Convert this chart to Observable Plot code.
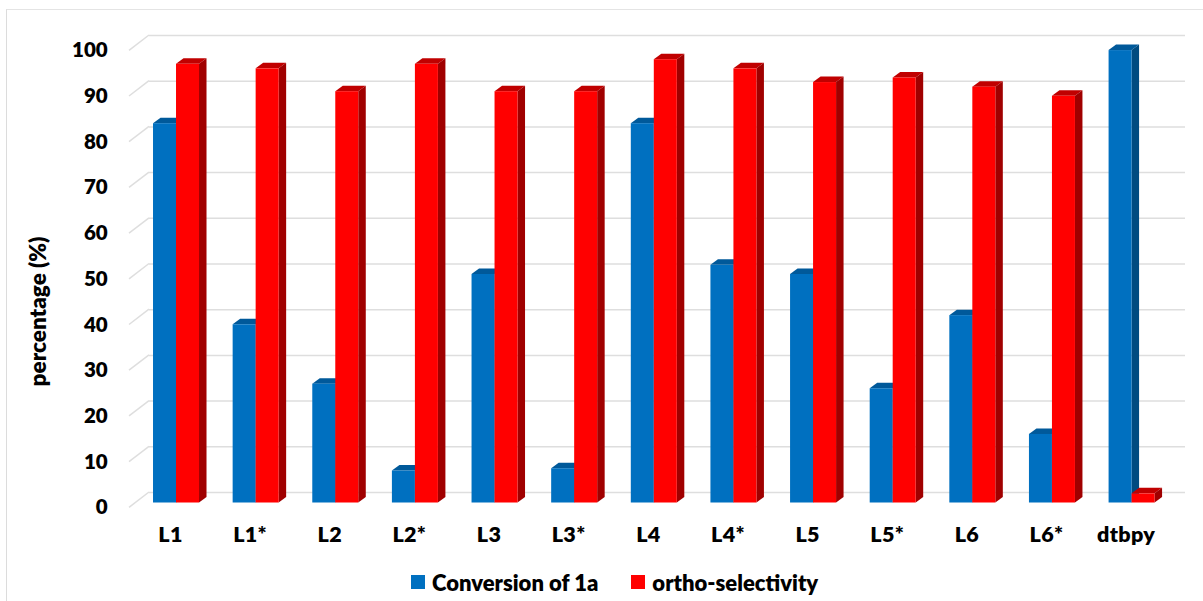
<!DOCTYPE html>
<html><head><meta charset="utf-8">
<script src="https://cdn.jsdelivr.net/npm/d3@7"></script>
<script src="https://cdn.jsdelivr.net/npm/@observablehq/plot@0.6"></script>
<style>
html,body{margin:0;padding:0;background:#fff;width:1203px;height:601px;overflow:hidden}
#frame{position:absolute;left:6px;top:9px;width:1197px;height:592px;border-left:1.5px solid #dcdcdc;border-top:1.5px solid #e4e4e4;box-sizing:border-box}
#chart{position:absolute;left:0;top:0}
#legend{position:absolute;left:411px;top:570px;height:24px;display:flex;align-items:center;font:800 22px Lato,sans-serif;color:#000;white-space:nowrap}
#legend i{display:inline-block;width:14px;height:14px;margin-right:7px}
#legend span{display:inline-flex;align-items:center}
#chart g[aria-label="x-axis tick label"]{font-size:21.5px;letter-spacing:.3px}
</style></head><body>
<div id="frame"></div>
<div id="chart"></div>
<div id="legend"></div>
<script>
const categories = ["L1","L1*","L2","L2*","L3","L3*","L4","L4*","L5","L5*","L6","L6*","dtbpy"];
const conversion = [83,39,26,7,50,7.5,83,52,50,25,41,15,99];
const selectivity = [96,95,90,96,90,90,97,95,92,93,91,89,2];
const yTicks = [0,10,20,30,40,50,60,70,80,90,100];
const seriesNames = ["Conversion of 1a","ortho-selectivity"];
const seriesColors = ["#0070C0","#FF0000"];

const blueRows = categories.map((c,i)=>({c,v:conversion[i]}));
const redRows = categories.map((c,i)=>({c,v:selectivity[i]}));

const barW = 23, band = 79.63, gap = (band-2*barW)/2;
const depthX = 7.5, depthY = 5.5;

function depth3D(rows, leftOffset, topColor, sideColor){
  return (index, scales) => {
    const g = d3.create("svg:g");
    for (const r of rows){
      const x0 = scales.x(r.c)+leftOffset, x1 = x0+barW;
      const yt = scales.y(r.v), yb = scales.y(0);
      g.append("polygon").attr("fill",topColor)
        .attr("points",[[x0,yt],[x0+depthX,yt-depthY],[x1+depthX,yt-depthY],[x1,yt]].join(" "));
      g.append("polygon").attr("fill",sideColor)
        .attr("points",[[x1,yt],[x1+depthX,yt-depthY],[x1+depthX,yb-depthY],[x1,yb]].join(" "));
    }
    return g.node();
  };
}
const wall = (index, scales) => {
  const g = d3.create("svg:g");
  for (const t of yTicks){
    g.append("line").attr("x1",129).attr("x2",149)
      .attr("y1",scales.y(t)+4.8).attr("y2",scales.y(t)-10.5)
      .attr("stroke","#dedede").attr("stroke-width",1.5);
  }
  return g.node();
};

const plot = Plot.plot({
  width:1203, height:565,
  marginLeft:136.2, marginRight:31.6, marginTop:45.5, marginBottom:62.5,
  style:{fontFamily:"Lato, sans-serif",fontWeight:800,fontSize:"20.5px",color:"#000",background:"transparent"},
  x:{domain:categories,padding:0,round:false,label:null},
  y:{domain:[0,100],label:null},
  marks:[
    Plot.ruleY(yTicks,{stroke:"#dedede",strokeWidth:1.5,dy:-10.5,insetLeft:12.8,insetRight:-13.6}),
    wall,
    Plot.axisY({ticks:yTicks,tickSize:0,tickPadding:29,dy:4.8,label:null}),
    Plot.text(["percentage (%)"],{frameAnchor:"left",dx:-98,dy:37,rotate:-90,fontSize:22.5,fontWeight:800,fill:"#000",textAnchor:"middle"}),
    Plot.axisX({tickSize:0,tickPadding:24,dx:-6,label:null,fontSize:21.5}),
    depth3D(blueRows,gap,"#00599A","#004B80"),
    Plot.barY(blueRows,{x:"c",y:"v",fill:seriesColors[0],insetLeft:gap,insetRight:gap+barW}),
    depth3D(redRows,gap+barW,"#C00000","#A00000"),
    Plot.barY(redRows,{x:"c",y:"v",fill:seriesColors[1],insetLeft:gap+barW,insetRight:gap})
  ]
});
document.getElementById("chart").append(plot);
const legend = document.getElementById("legend");
seriesNames.forEach((n,i)=>{
  const s=document.createElement("span");
  if(i) s.style.marginLeft="33px";
  const k=document.createElement("i"); k.style.background=seriesColors[i];
  s.append(k,document.createTextNode(n));
  legend.append(s);
});
</script>
</body></html>
